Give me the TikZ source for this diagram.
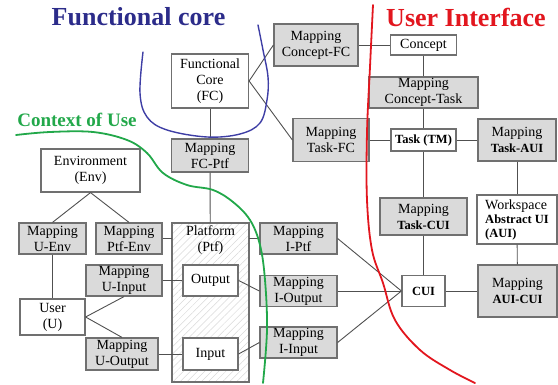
\documentclass[tikz,border=0pt]{standalone}
\usepackage{fontspec}
\setmainfont{Liberation Serif}
\usepackage{tikz}
\usetikzlibrary{patterns.meta}
\definecolor{fcblue}{RGB}{44,44,138}
\definecolor{curveblue}{RGB}{62,62,165}
\definecolor{uired}{RGB}{226,22,30}
\definecolor{cugreen}{RGB}{34,168,74}
\definecolor{boxgray}{RGB}{112,112,112}
\definecolor{mapgray}{RGB}{218,218,218}
\definecolor{linegray}{RGB}{80,80,80}
\newcommand{\bpart}[1]{{\fontsize{12.5}{14}\selectfont\bfseries #1}}

\begin{document}
\begin{tikzpicture}[x=1pt, y=-1pt,
box/.style={
		draw=boxgray,
		line width=1.2pt,
		fill=white,
		align=center,
		inner sep=1pt,
		font=\fontsize{14}{16}\selectfont,
		},
map/.style={box, fill=mapgray},
link/.style={draw=linegray, line width=0.9pt},
zone/.style={line width=1.8pt, line cap=round},
title/.style={font=\fontsize{26}{30}\selectfont\bfseries, inner sep=0pt}
]

\useasboundingbox (0,0) rectangle (558,385);

\def \iw {77} % width of the I- mappings
\def \ih {31}

% functional core side
\node[box, minimum width=77, minimum height=54] (fc) at (210,81) {Functional\\Core\\(FC)};
\node[map, minimum width=77, minimum height=33] (fcptf) at (210,155.5) {Mapping\\FC-Ptf};
\node[map, minimum width=84, minimum height=42] (conceptfc) at (316,45) {Mapping\\Concept-FC};
\node[map, minimum width=76, minimum height=43] (taskfc) at (331,140) {Mapping\\Task-FC};

% user interface side
\node[box, minimum width=66, minimum height=20] (concept) at (423.5,45) {Concept};
\node[map, minimum width=109, minimum height=31] (concepttask) at (423.5,92.5) {Mapping\\Concept-Task};
\node[box, minimum width=65, minimum height=22] (task) at (423.5,140) {\bpart{Task (TM)}};
\node[map, minimum width=78, minimum height=42] (taskaui) at (517,140) {Mapping\\\bpart{Task-AUI}};
\node[map, minimum width=87, minimum height=37] (taskcui) at (423.5,216.5) {Mapping\\\bpart{Task-CUI}};
\node[box, minimum width=80, minimum height=49, align=left, font=\fontsize{14}{14}\selectfont] (aui) at (517,219.5) {Workspace\\\bpart{Abstract UI}\\\bpart{(AUI)}};
\node[map, minimum width=79, minimum height=52] (auicui) at (517.5,291) {Mapping\\\bpart{AUI-CUI}};
\node[box, minimum width=43, minimum height=31] (cui) at (423.5,291) {\bpart{CUI}};

\node[map, minimum width=\iw, minimum height=\ih] (iptf) at (298.5,238.5) {Mapping\\I-Ptf};
\node[map, minimum width=\iw, minimum height=\ih] (ioutput) at (298.5,291) {Mapping\\I-Output};
\node[map, minimum width=\iw, minimum height=\ih] (iinput) at (298.5,342.5) {Mapping\\I-Input};

% context of use
\node[box, minimum width=99, minimum height=43] (env) at (90.5,170.5) {Environment\\(Env)};
\node[map, minimum width=67, minimum height=31] (uenv) at (52.5,238.5) {Mapping\\U-Env};
\node[map, minimum width=66, minimum height=31] (ptfenv) at (129,238.5) {Mapping\\Ptf-Env};
\node[box, minimum width=77, minimum height=159, fill=white,
  pattern={Lines[angle=45, distance=5pt, line width=0.5pt]}, pattern color=gray!30] (ptf) at (210.5,302.5) {};
\node[box, draw=none, fill=none, anchor=north, inner sep=2pt] (ptflabel) at (ptf.north) {Platform\\(Ptf)};
\node[box, minimum width=55, minimum height=31] (output) at (210.5,280.5) {Output};
\node[box, minimum width=55, minimum height=32] (input) at (210.5,354) {Input};
\node[map, minimum width=76, minimum height=31] (uinput) at (124,280.5) {Mapping\\U-Input};
\node[map, minimum width=72, minimum height=32] (uoutput) at (122,354) {Mapping\\U-Output};
\node[box, minimum width=65, minimum height=36] (user) at (52.5,317) {User\\(U)};

% links
\draw[link] (fc) -- (fcptf);
\draw[link] (fcptf) -- (ptf);
\draw[link] (fc.east) -- (conceptfc.west);
\draw[link] (fc.east) -- (taskfc.west);
\draw[link] (conceptfc) -- (concept);
\draw[link] (concept) -- (concepttask);
\draw[link] (concepttask) -- (task);
\draw[link] (taskfc) -- (task);
\draw[link] (task) -- (taskaui);
\draw[link] (task) -- (taskcui);
\draw[link] (taskcui) -- (cui);
\draw[link] (taskaui) -- (aui);
\draw[link] (aui) -- (auicui);
\draw[link] (cui) -- (auicui);
\foreach \m in {iptf, ioutput, iinput}
  \draw[link] (\m.east) -- (cui.west);
\draw[link] (ptf.east |- iptf) -- (iptf);
\draw[link] (ptfenv) -- (ptfenv -| ptf.west);
\draw[link] (output.east) -- (ioutput.west);
\draw[link] (input.east) -- (iinput.west);
\draw[link] (env.south) -- (uenv.north);
\draw[link] (env.south) -- (ptfenv.north);
\draw[link] (uenv) -- (user);
\draw[link] (uinput) -- (output);
\draw[link] (uoutput) -- (input);
\draw[link] (user.east) -- (uinput.south);
\draw[link] (user.east) -- (uoutput.north);

% zones
\draw[zone, curveblue, line width=1.4pt] plot[smooth, tension=0.6] coordinates {
  (143,52) (140,93) (147,117) (167,130) (207,137) (240,134) (260,123)
  (267,100) (268,77) (263,50) (258,25)};
\draw[zone, cugreen] plot[smooth, tension=0.6] coordinates {
  (16,135) (50,132) (93,132) (127,140) (147,153) (163,173) (187,185)
  (213,190) (233,202) (250,220) (260,245) (265,280) (267,330) (263,383)};
\draw[zone, uired] plot[smooth, tension=0.6] coordinates {
  (373,5) (370,67) (367,133) (367,200) (372,250) (383,283) (395,320)
  (420,350) (450,370) (475,383)};

\node[title, text=fcblue] (fctitle) at (138.5,17) {Functional core};
\node[title, text=uired] (uititle) at (466,17) {User Interface};
\node[title, text=cugreen, font=\fontsize{19}{22}\selectfont\bfseries] (cutitle) at (77,119.5) {Context of Use};

\end{tikzpicture}
\end{document}
